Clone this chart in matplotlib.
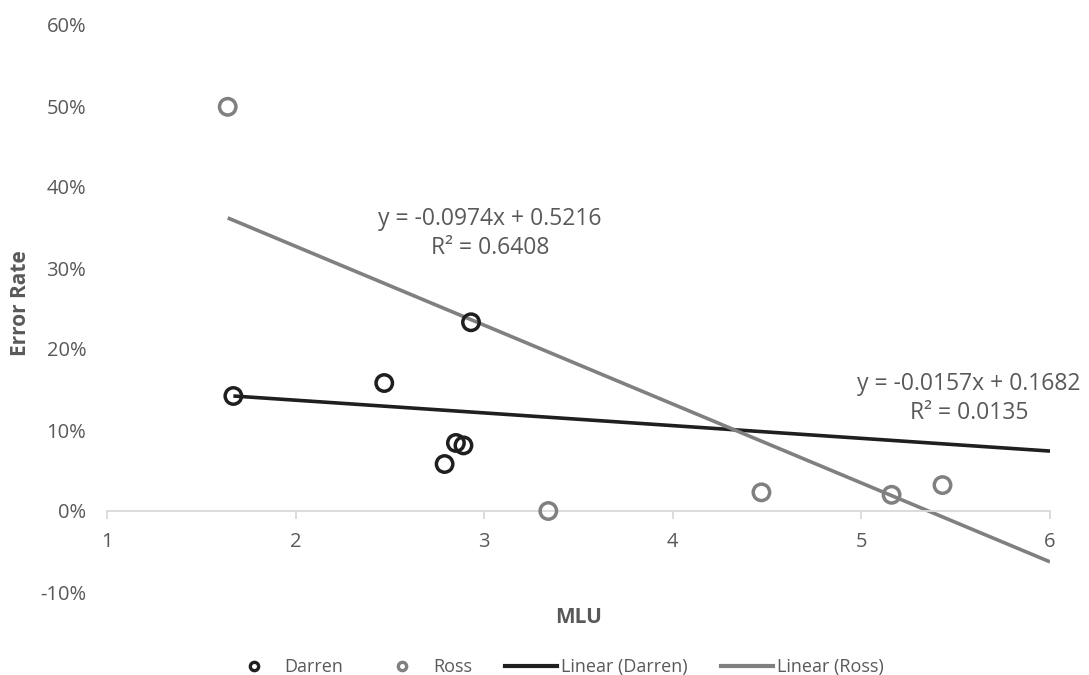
import matplotlib
matplotlib.use("Agg")
import matplotlib.pyplot as plt
import numpy as np
from matplotlib.ticker import FuncFormatter
from matplotlib.lines import Line2D

plt.rcParams['font.family'] = ['Open Sans', 'DejaVu Sans']

darren_x = [1.67, 2.47, 2.93, 2.79, 2.85, 2.89]
darren_y = [0.142, 0.158, 0.233, 0.058, 0.084, 0.081]
ross_x = [1.64, 3.34, 4.47, 5.16, 5.43]
ross_y = [0.499, 0.0, 0.023, 0.020, 0.032]

darren_fit = (-0.0157, 0.1682, 0.0135)
ross_fit = (-0.0974, 0.5216, 0.6408)

x_ticks = [1, 2, 3, 4, 5, 6]
y_ticks = [-0.1, 0.0, 0.1, 0.2, 0.3, 0.4, 0.5, 0.6]

W, H = 1089, 675
fig = plt.figure(figsize=(W / 100, H / 100), dpi=100)
ax = fig.add_axes([107 / W, (H - 592) / H, (1050 - 107) / W, (592 - 25) / H])

dark = '#1f1f1f'
gray = '#808080'
txt = '#595959'

# trendlines (forecast forward to axis max)
for xs, fit, col in [(darren_x, darren_fit, dark), (ross_x, ross_fit, gray)]:
    m, b, r2 = fit
    xl = np.array([min(xs), 6.0])
    ax.plot(xl, m * xl + b, color=col, lw=2.6, zorder=2, solid_capstyle='butt')

ax.scatter(darren_x, darren_y, s=140, facecolors='none', edgecolors=dark, linewidths=2.5, zorder=3)
ax.scatter(ross_x, ross_y, s=140, facecolors='none', edgecolors=gray, linewidths=2.5, zorder=3)

ax.set_xlim(1, 6)
ax.set_ylim(-0.1, 0.6)
ax.set_xticks(x_ticks)
ax.set_yticks(y_ticks)
ax.yaxis.set_major_formatter(FuncFormatter(lambda v, p: f"{v*100:.0f}%"))

for s in ['top', 'right', 'left']:
    ax.spines[s].set_visible(False)
ax.spines['bottom'].set_position(('data', 0))
ax.spines['bottom'].set_color('#d9d9d9')
ax.spines['bottom'].set_linewidth(1.3)
ax.tick_params(axis='x', colors='#d9d9d9', length=6, width=1.3, labelcolor=txt, labelsize=14.5, pad=9)
ax.tick_params(axis='y', length=0, labelcolor=txt, labelsize=14.5, pad=15)

ax.set_xlabel('MLU', fontsize=15, fontweight='bold', color=txt)
ax.xaxis.set_label_coords(0.5, -0.027)
ax.set_ylabel('Error Rate', fontsize=15, fontweight='bold', color=txt)
ax.yaxis.set_label_coords(-0.081, 0.51)

ax.text(3.03, 0.3426, f"y = {ross_fit[0]:.4f}x + {ross_fit[1]:.4f}\nR² = {ross_fit[2]:.4f}",
        fontsize=16.5, color=txt, ha='center', va='center', linespacing=1.3)
ax.text(5.57, 0.139, f"y = {darren_fit[0]:.4f}x + {darren_fit[1]:.4f}\nR² = {darren_fit[2]:.4f}",
        fontsize=16.5, color=txt, ha='center', va='center', linespacing=1.3)

handles = [
    Line2D([], [], marker='o', ls='none', markersize=6, markerfacecolor='none', markeredgecolor=dark, markeredgewidth=2.4),
    Line2D([], [], marker='o', ls='none', markersize=6, markerfacecolor='none', markeredgecolor=gray, markeredgewidth=2.4),
    Line2D([], [], color=dark, lw=3),
    Line2D([], [], color=gray, lw=3),
]
labels = ['Darren', 'Ross', 'Linear (Darren)', 'Linear (Ross)']
fig.legend(handles, labels, loc='center', bbox_to_anchor=(556 / W, 1 - 667 / H), ncol=4, frameon=False,
           fontsize=13, labelcolor=txt, handlelength=2.9, handletextpad=0.25, columnspacing=1.8,
           borderpad=0, borderaxespad=0)

fig.savefig('out.png', dpi=100)
